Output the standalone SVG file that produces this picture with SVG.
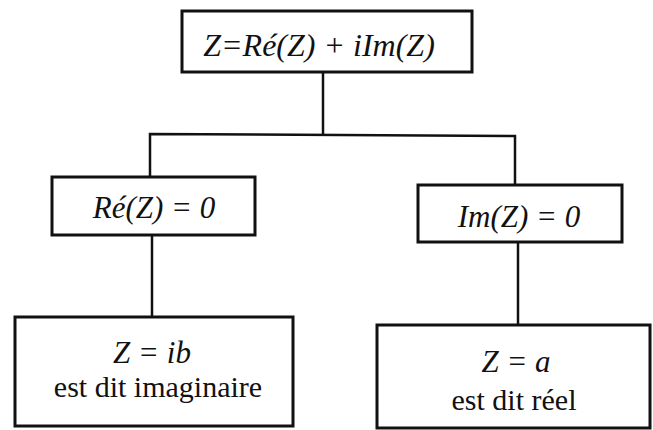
<svg xmlns="http://www.w3.org/2000/svg" width="653" height="430" viewBox="0 0 653 430">
<style>
.box{fill:#fff;stroke:#111;stroke-width:3}
.ln{fill:none;stroke:#111;stroke-width:2.5}
.t{font-family:'Liberation Serif','DejaVu Serif','Times New Roman',serif;fill:#111;text-anchor:middle}
.i{font-style:italic}
</style>
<rect width="653" height="430" fill="#fff"/>
<g id="connectors">
<polyline class="ln" points="323,72 323,134"/>
<polyline class="ln" points="150,177 150,134 515,136 515,185"/>
<line class="ln" x1="152" y1="235" x2="152" y2="317"/>
<line class="ln" x1="518" y1="242" x2="518" y2="325"/>
</g>
<g id="top">
<rect class="box" x="182" y="11" width="290" height="61"/>
<text class="t i" x="319" y="56" font-size="32">Z=Ré(Z) + iIm(Z)</text>
</g>
<g id="re0">
<rect class="box" x="52" y="177" width="203" height="58"/>
<text class="t i" x="154" y="218" font-size="31">Ré(Z) = 0</text>
</g>
<g id="im0">
<rect class="box" x="418" y="185" width="204" height="57"/>
<text class="t i" x="519" y="227" font-size="31">Im(Z) = 0</text>
</g>
<g id="imag">
<rect class="box" x="15" y="317" width="278" height="109"/>
<text class="t i" x="152" y="363" font-size="31">Z = ib</text>
<text class="t" x="158" y="397" font-size="30">est dit imaginaire</text>
</g>
<g id="reel">
<rect class="box" x="377" y="325" width="273" height="103"/>
<text class="t i" x="516" y="372" font-size="31">Z = a</text>
<text class="t" x="514" y="410" font-size="30">est dit réel</text>
</g>
</svg>
